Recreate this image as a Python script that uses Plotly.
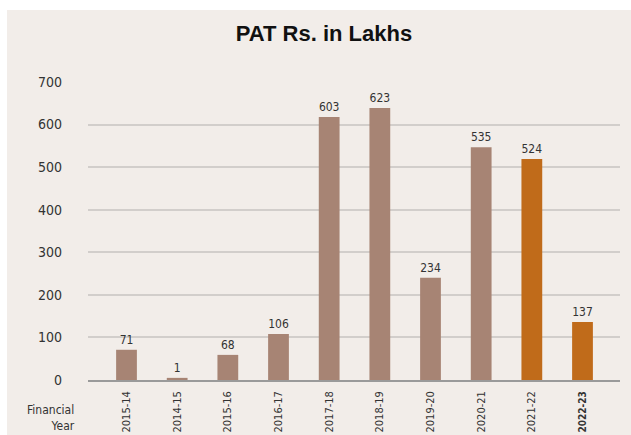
import plotly.graph_objects as go

categories = ["2015-14", "2014-15", "2015-16", "2016-17", "2017-18",
              "2018-19", "2019-20", "2020-21", "2021-22", "2022-23"]
bar_heights = [71, 5, 59, 108, 618, 639, 240, 547, 519, 136]
value_labels = ["71", "1", "68", "106", "603", "623", "234", "535", "524", "137"]
bar_colors = ["#A78474"] * 8 + ["#C06B1A"] * 2
tick_text = categories[:-1] + ['<span style="font-size:10px"><b>' + categories[-1] + "</b></span>"]
y_ticks = [0, 100, 200, 300, 400, 500, 600, 700]

FONT = "DejaVu Sans Condensed, Liberation Sans Narrow, Arial Narrow, sans-serif"

fig = go.Figure()
fig.add_trace(go.Bar(
    x=list(range(len(categories))),
    y=bar_heights,
    width=0.41,
    marker=dict(color=bar_colors, line=dict(width=0)),
    text=value_labels,
    textposition="outside",
    textfont=dict(family=FONT, size=12, color="#333333"),
    cliponaxis=False,
    hoverinfo="skip",
))

L, R, T, B = 88, 11, 82, 55
W, H = 631, 435
pw = W - L - R
ph = H - T - B

def px_x(px):
    return (px - L) / pw

def px_y(py):
    return (H - B - py) / ph

fig.add_shape(type="rect", xref="paper", yref="paper",
              x0=px_x(7), x1=px_x(631), y0=px_y(435), y1=px_y(10),
              fillcolor="#F2EDE9", line=dict(width=0), layer="below")

fig.add_annotation(xref="paper", yref="paper", x=px_x(77), y=px_y(418),
                   xanchor="right", yanchor="middle", align="right",
                   text="Financial<br>Year", showarrow=False,
                   font=dict(family=FONT, size=12, color="#333333"))

fig.update_layout(
    width=W, height=H,
    margin=dict(l=L, r=R, t=T, b=B, autoexpand=False),
    paper_bgcolor="white",
    plot_bgcolor="rgba(0,0,0,0)",
    showlegend=False,
    title=dict(text="<b>PAT Rs. in Lakhs</b>", x=px_x(324), xanchor="center",
               y=(H - 33) / H, yanchor="middle", xref="paper",
               font=dict(family="Liberation Sans, Arial, sans-serif", size=22, color="#111111")),
    xaxis=dict(
        range=[-0.76, 9.74],
        tickvals=list(range(len(categories))),
        ticktext=tick_text,
        tickangle=-90,
        tickfont=dict(family=FONT, size=11, color="#333333"),
        showgrid=False,
        zeroline=False,
        showline=True, linecolor="#9a9a9a", linewidth=1.5,
        ticks="", ticklabelstandoff=5, automargin=False,
    ),
    yaxis=dict(
        range=[0, 700],
        tickvals=y_ticks,
        tickfont=dict(family=FONT, size=14, color="#333333"),
        showgrid=True, gridcolor="#D2CECB", gridwidth=1.5,
        zeroline=False, showline=False,
        ticks="", ticklabelstandoff=25, automargin=False,
    ),
)

fig.write_html("out.html", config={"displayModeBar": False},
               post_script="document.body.style.margin='0';document.body.style.overflow='hidden';")
